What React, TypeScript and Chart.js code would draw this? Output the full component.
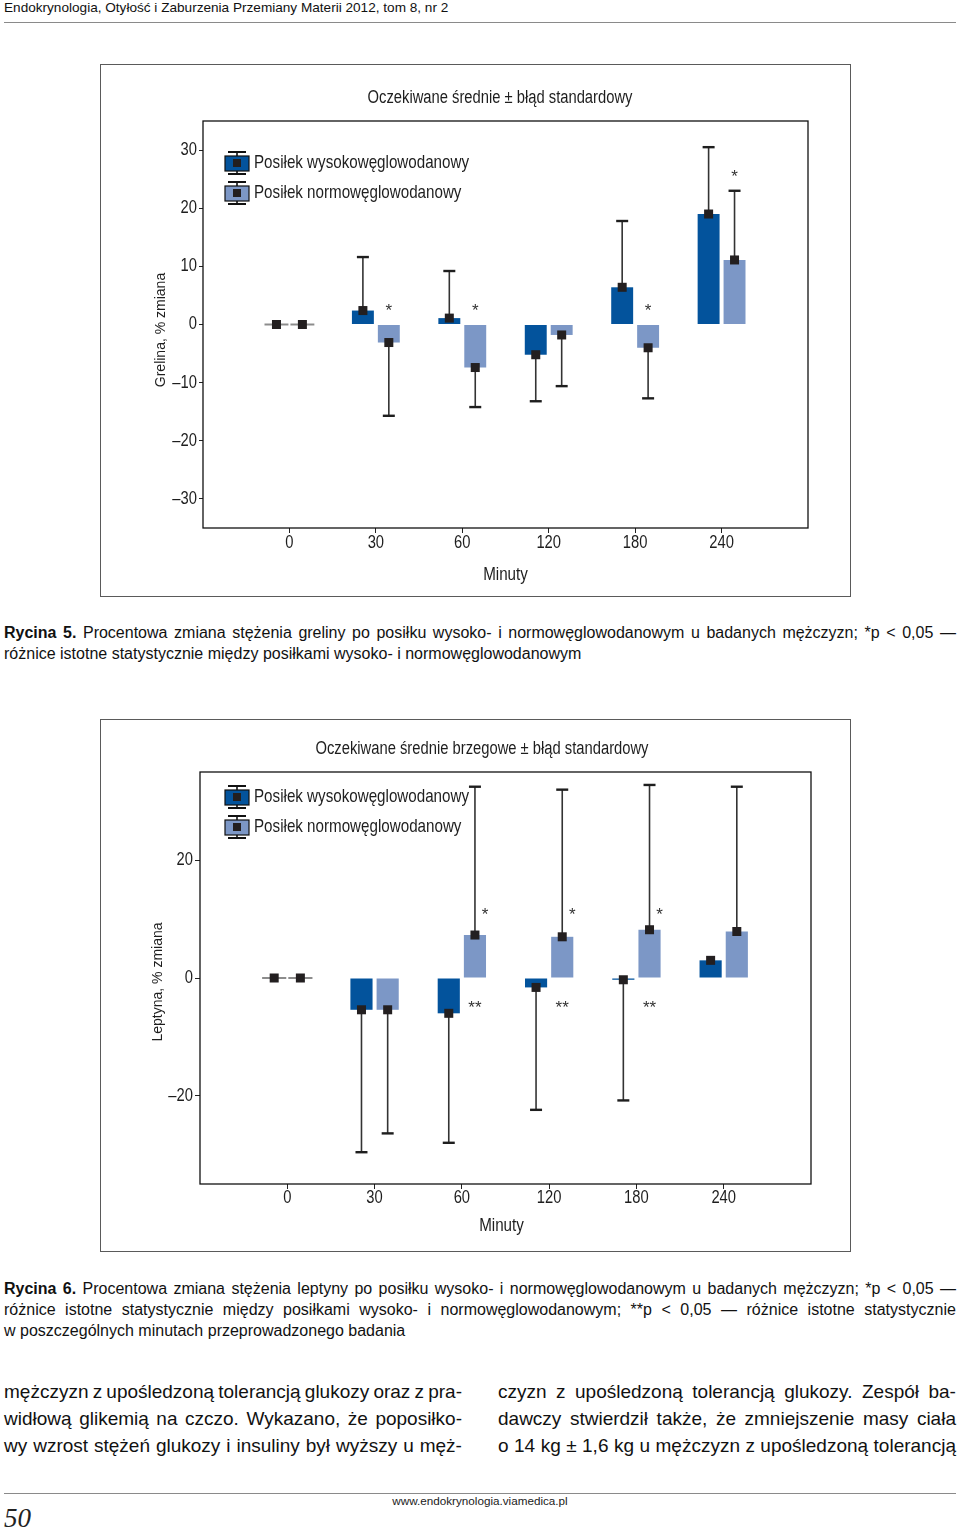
import React, { useEffect, useRef, useLayoutEffect } from 'react';
import { Chart, registerables } from 'chart.js';

Chart.register(...registerables);

// ---------- DATA ----------
const timeCategories = ['0', '30', '60', '120', '180', '240'];
const seriesNames = ['Posiłek wysokowęglowodanowy', 'Posiłek normowęglowodanowy'];

// Rycina 5 – grelina (% zmiana)
const ghrelinHighCarb = [0, 2.4, 1.1, -5.2, 6.4, 19.0];
const ghrelinHighCarbErrEnd = [0, 11.6, 9.2, -13.2, 17.8, 30.5];
const ghrelinNormCarb = [0, -3.1, -7.4, -1.8, -4.0, 11.1];
const ghrelinNormCarbErrEnd = [0, -15.7, -14.2, -10.6, -12.7, 23.0];
const ghrelinStarText = ['', '*', '*', '', '*', '*'];
const ghrelinStarValue = [null, 3.2, 3.2, null, 3.2, 26.2];
const ghrelinTicks = [-30, -20, -10, 0, 10, 20, 30];

// Rycina 6 – leptyna (% zmiana)
const leptinHighCarb = [0, -5.4, -6.0, -1.6, -0.3, 3.0];
const leptinHighCarbErrEnd = [0, -29.6, -28.0, -22.4, -20.8, null];
const leptinNormCarb = [0, -5.4, 7.3, 7.0, 8.2, 7.9];
const leptinNormCarbErrEnd = [0, -26.4, 32.5, 32.0, 32.8, 32.5];
const leptinStarText = ['', '', '*', '*', '*', ''];
const leptinStarValue = [null, null, 11.5, 11.5, 11.5, null];
const leptinDoubleStarText = ['', '', '**', '**', '**', ''];
const leptinDoubleStarValue = [null, null, -4.3, -4.3, -4.3, null];
const leptinTicks = [-20, 0, 20];

// ---------- STYLE ----------
const DARK = '#03539c';
const LIGHT = '#7c97c6';
const INK = '#1e1e1e';
const SANS = '"Liberation Sans", Arial, Helvetica, sans-serif';
const NARROW_FACTOR = 0.82;
const CW = 749;
const CH = 531;

type StarSpec = { dataset: number; text: string[]; value: (number | null)[]; dx: number };
type PanelSpec = {
  id: string;
  title: string;
  titleX: number;
  titleY: number;
  yTitle: string;
  yTitleX: number;
  yTitleY: number;
  xTitleDx: number;
  xTitleY: number;
  yAxisWidth: number;
  yTickLen: number;
  areaTop: number;
  padRight: number;
  xAxisHeight: number;
  xTickY: number;
  ticks: number[];
  high: number[];
  highErr: (number | null)[];
  norm: number[];
  normErr: (number | null)[];
  stars: StarSpec[];
  legendX: number;
  legendY: number;
};

const panel5: PanelSpec = {
  id: 'r5',
  title: 'Oczekiwane średnie ± błąd standardowy',
  titleX: 399,
  titleY: 33,
  yTitle: 'Grelina, % zmiana',
  yTitleX: 60,
  yTitleY: 265,
  xTitleDx: 0,
  xTitleY: 510,
  yAxisWidth: 102,
  yTickLen: 4,
  areaTop: 56,
  padRight: 42,
  xAxisHeight: 68,
  xTickY: 478,
  ticks: ghrelinTicks,
  high: ghrelinHighCarb,
  highErr: ghrelinHighCarbErrEnd,
  norm: ghrelinNormCarb,
  normErr: ghrelinNormCarbErrEnd,
  stars: [{ dataset: 1, text: ghrelinStarText, value: ghrelinStarValue, dx: 0 }],
  legendX: 124,
  legendY: 98,
};

const panel6: PanelSpec = {
  id: 'r6',
  title: 'Oczekiwane średnie brzegowe ± błąd standardowy',
  titleX: 381,
  titleY: 29,
  yTitle: 'Leptyna, % zmiana',
  yTitleX: 57,
  yTitleY: 262,
  xTitleDx: -4,
  xTitleY: 506,
  yAxisWidth: 99,
  yTickLen: 5,
  areaTop: 52,
  padRight: 39,
  xAxisHeight: 67,
  xTickY: 478,
  ticks: leptinTicks,
  high: leptinHighCarb,
  highErr: leptinHighCarbErrEnd,
  norm: leptinNormCarb,
  normErr: leptinNormCarbErrEnd,
  stars: [
    { dataset: 1, text: leptinStarText, value: leptinStarValue, dx: 10 },
    { dataset: 1, text: leptinDoubleStarText, value: leptinDoubleStarValue, dx: 0 },
  ],
  legendX: 124,
  legendY: 77,
};

function narrowText(
  ctx: CanvasRenderingContext2D,
  text: string,
  x: number,
  y: number,
  align: CanvasTextAlign,
  size: number,
  factor = NARROW_FACTOR,
  rotate = 0
) {
  ctx.save();
  ctx.translate(x, y);
  if (rotate) ctx.rotate(rotate);
  ctx.scale(factor, 1);
  ctx.font = `${size}px ${SANS}`;
  ctx.fillStyle = INK;
  ctx.textAlign = align;
  ctx.textBaseline = 'middle';
  ctx.fillText(text, 0, 0);
  ctx.restore();
}

function makeOverlay(spec: PanelSpec) {
  return {
    id: 'overlay-' + spec.id,
    afterDraw(chart: any) {
      const { ctx, chartArea: a, scales } = chart;
      const ys = scales.y;
      const xs = scales.x;
      const zeroPx = ys.getPixelForValue(0);
      ctx.save();
      const series = [
        { values: spec.high, ends: spec.highErr },
        { values: spec.norm, ends: spec.normErr },
      ];
      // zero-height bar edges and error bars
      series.forEach((s, di) => {
        const meta = chart.getDatasetMeta(di);
        s.values.forEach((v, i) => {
          const el = meta.data[i + 1];
          if (v == null || !el) return;
          const { x, width } = el.getProps(['x', 'width'], true);
          const py = ys.getPixelForValue(v);
          if (Math.abs(py - zeroPx) < 1.5) {
            ctx.strokeStyle = '#8c8c8c';
            ctx.lineWidth = 2;
            ctx.beginPath();
            ctx.moveTo(x - width / 2 - 1, py);
            ctx.lineTo(x + width / 2 + 1, py);
            ctx.stroke();
          }
          const e = s.ends[i];
          if (e != null && e !== v) {
            const pe = ys.getPixelForValue(e);
            ctx.strokeStyle = '#333';
            ctx.lineWidth = 1.6;
            ctx.beginPath();
            ctx.moveTo(x, py);
            ctx.lineTo(x, pe);
            ctx.stroke();
            ctx.strokeStyle = INK;
            ctx.lineWidth = 2.4;
            ctx.beginPath();
            ctx.moveTo(x - 6, pe);
            ctx.lineTo(x + 6, pe);
            ctx.stroke();
          }
        });
      });
      // markers
      series.forEach((s, di) => {
        const meta = chart.getDatasetMeta(di);
        s.values.forEach((v, i) => {
          const el = meta.data[i + 1];
          if (v == null || !el) return;
          const { x } = el.getProps(['x'], true);
          const py = ys.getPixelForValue(v);
          ctx.fillStyle = '#231f20';
          ctx.fillRect(x - 4.5, py - 4.5, 9, 9);
        });
      });
      // significance marks
      ctx.fillStyle = '#333';
      ctx.font = `17px ${SANS}`;
      ctx.textAlign = 'center';
      ctx.textBaseline = 'alphabetic';
      spec.stars.forEach((st) => {
        const meta = chart.getDatasetMeta(st.dataset);
        st.text.forEach((t, i) => {
          const v = st.value[i];
          if (!t || v == null) return;
          const el = meta.data[i + 1];
          const { x } = el.getProps(['x'], true);
          const py = ys.getPixelForValue(v);
          ctx.fillText(t, x + st.dx, py + 10);
        });
      });
      // plot frame
      ctx.strokeStyle = '#111';
      ctx.lineWidth = 1.3;
      ctx.strokeRect(a.left, a.top, a.right - a.left, a.bottom - a.top);
      // tick labels (narrow face)
      ys.ticks.forEach((t: any) => {
        const label = String(t.value).replace('-', '–');
        narrowText(ctx, label, a.left - spec.yTickLen - 2, ys.getPixelForValue(t.value), 'right', 18);
      });
      xs.ticks.forEach((_t: any, i: number) => {
        const label = xs.getLabelForValue(i);
        if (!label) return;
        narrowText(ctx, label, xs.getPixelForTick(i), spec.xTickY, 'center', 18);
      });
      // axis titles
      narrowText(ctx, 'Minuty', (a.left + a.right) / 2 + spec.xTitleDx, spec.xTitleY, 'center', 18.5);
      narrowText(ctx, spec.yTitle, spec.yTitleX, spec.yTitleY, 'center', 14, 1, -Math.PI / 2);
      // legend
      const colors = [DARK, LIGHT];
      seriesNames.forEach((name, k) => {
        const cy = spec.legendY + k * 30;
        const ix = spec.legendX;
        const cx = ix + 12;
        ctx.fillStyle = colors[k];
        ctx.fillRect(ix, cy - 7, 24, 15);
        ctx.strokeStyle = '#111';
        ctx.lineWidth = 1.2;
        ctx.strokeRect(ix, cy - 7, 24, 15);
        ctx.lineWidth = 1.6;
        ctx.beginPath();
        ctx.moveTo(cx, cy - 11);
        ctx.lineTo(cx, cy - 7);
        ctx.moveTo(cx, cy + 8);
        ctx.lineTo(cx, cy + 11);
        ctx.stroke();
        ctx.lineWidth = 2.2;
        ctx.beginPath();
        ctx.moveTo(cx - 9, cy - 11);
        ctx.lineTo(cx + 9, cy - 11);
        ctx.moveTo(cx - 9, cy + 11);
        ctx.lineTo(cx + 9, cy + 11);
        ctx.stroke();
        ctx.fillStyle = '#231f20';
        ctx.fillRect(cx - 4, cy - 4, 8, 8);
        narrowText(ctx, name, ix + 29, cy, 'left', 18.5);
      });
      // title
      narrowText(ctx, spec.title, spec.titleX, spec.titleY, 'center', 18);
      ctx.restore();
    },
  };
}

function buildConfig(spec: PanelSpec): any {
  const labels = ['', ...timeCategories, ''];
  const pad = (arr: number[]) => [null, ...arr, null];
  const last = labels.length - 1;
  return {
    type: 'bar',
    data: {
      labels,
      datasets: [
        {
          label: seriesNames[0],
          data: pad(spec.high),
          backgroundColor: DARK,
          borderWidth: 0,
          categoryPercentage: 0.6,
          barPercentage: 0.846,
        },
        {
          label: seriesNames[1],
          data: pad(spec.norm),
          backgroundColor: LIGHT,
          borderWidth: 0,
          categoryPercentage: 0.6,
          barPercentage: 0.846,
        },
      ],
    },
    options: {
      responsive: false,
      animation: false,
      devicePixelRatio: 1,
      events: [],
      layout: { padding: { top: spec.areaTop, right: spec.padRight, left: 0, bottom: 0 } },
      plugins: {
        legend: { display: false },
        title: { display: false },
        tooltip: { enabled: false },
      },
      scales: {
        x: {
          type: 'category',
          offset: false,
          border: { display: false },
          grid: {
            display: true,
            offset: false,
            drawOnChartArea: false,
            drawTicks: true,
            tickLength: 5,
            lineWidth: 1,
            color: (c: any) => (c.index === 0 || c.index === last ? 'rgba(0,0,0,0)' : '#222'),
          },
          ticks: { display: false, autoSkip: false, maxRotation: 0 },
          title: { display: false },
          afterFit: (s: any) => {
            s.height = spec.xAxisHeight;
          },
        },
        y: {
          type: 'linear',
          min: -35,
          max: 35,
          border: { display: false },
          afterBuildTicks: (s: any) => {
            s.ticks = spec.ticks.map((v) => ({ value: v }));
          },
          grid: {
            display: true,
            drawOnChartArea: false,
            drawTicks: true,
            tickLength: spec.yTickLen,
            lineWidth: 1,
            color: '#222',
          },
          ticks: { display: false },
          title: { display: false },
          afterFit: (s: any) => {
            s.width = spec.yAxisWidth;
          },
        },
      },
    },
    plugins: [makeOverlay(spec)],
  };
}

function Panel({ spec, top }: { spec: PanelSpec; top: number }) {
  const ref = useRef<HTMLCanvasElement>(null);
  useEffect(() => {
    if (!ref.current) return;
    const chart = new Chart(ref.current, buildConfig(spec));
    return () => chart.destroy();
  }, [spec]);
  return (
    <div
      style={{
        position: 'absolute',
        left: 100,
        top,
        width: CW + 2,
        height: CH + 2,
        border: '1px solid #5a5a5a',
        boxSizing: 'border-box',
        background: '#fff',
      }}
    >
      <canvas ref={ref} width={CW} height={CH} style={{ display: 'block', width: CW, height: CH }} />
    </div>
  );
}

type LineProps = {
  text: string;
  left: number;
  centerY: number;
  width: number;
  size: number;
  lh: number;
  justify?: boolean;
  boldWords?: number;
};

function TextLine({ text, left, centerY, width, size, lh, justify, boldWords = 0 }: LineProps) {
  const inner = useRef<HTMLDivElement>(null);
  useLayoutEffect(() => {
    const el = inner.current;
    if (!el) return;
    el.style.transform = '';
    el.style.width = width + 'px';
    const w = el.scrollWidth;
    if (w > width + 0.5) {
      el.style.width = w + 'px';
      el.style.transform = `scaleX(${width / w})`;
    }
  }, [text, width]);
  const words = text.split(' ');
  return (
    <div
      style={{
        position: 'absolute',
        left,
        top: centerY - lh / 2,
        width,
        height: lh,
        lineHeight: lh + 'px',
        fontFamily: SANS,
        fontSize: size,
        color: '#111',
        whiteSpace: 'nowrap',
      }}
    >
      <div
        ref={inner}
        style={{
          display: 'flex',
          justifyContent: justify ? 'space-between' : 'flex-start',
          columnGap: justify ? '0.22em' : '0.28em',
          transformOrigin: 'left center',
          width,
        }}
      >
        {words.map((w, i) => (
          <span key={i} style={{ fontWeight: i < boldWords ? 'bold' : 'normal', flex: 'none' }}>
            {w}
          </span>
        ))}
      </div>
    </div>
  );
}

export default function App() {
  const cap = 16;
  const capLh = 21;
  const body = 19;
  const bodyLh = 27;
  return (
    <div style={{ position: 'absolute', left: 0, top: 0, width: 960, height: 1529, background: '#fff', overflow: 'hidden' }}>
      <div
        style={{
          position: 'absolute',
          left: 4,
          top: 0,
          fontFamily: SANS,
          fontSize: 13.6,
          lineHeight: '16px',
          color: '#111',
          whiteSpace: 'nowrap',
        }}
      >
        Endokrynologia, Otyłość i Zaburzenia Przemiany Materii 2012, tom 8, nr 2
      </div>
      <div style={{ position: 'absolute', left: 4, top: 22, width: 952, height: 1, background: '#8a8a8a' }} />

      <Panel spec={panel5} top={64} />

      <TextLine
        text="Rycina 5. Procentowa zmiana stężenia greliny po posiłku wysoko- i normowęglowodanowym u badanych mężczyzn; *p < 0,05 —"
        left={4}
        centerY={632}
        width={952}
        size={cap}
        lh={capLh}
        justify
        boldWords={2}
      />
      <TextLine
        text="różnice istotne statystycznie między posiłkami wysoko- i normowęglowodanowym"
        left={4}
        centerY={653}
        width={952}
        size={cap}
        lh={capLh}
      />

      <Panel spec={panel6} top={719} />

      <TextLine
        text="Rycina 6. Procentowa zmiana stężenia leptyny po posiłku wysoko- i normowęglowodanowym u badanych mężczyzn; *p < 0,05 —"
        left={4}
        centerY={1288}
        width={952}
        size={cap}
        lh={capLh}
        justify
        boldWords={2}
      />
      <TextLine
        text="różnice istotne statystycznie między posiłkami wysoko- i normowęglowodanowym; **p < 0,05 — różnice istotne statystycznie"
        left={4}
        centerY={1309}
        width={952}
        size={cap}
        lh={capLh}
        justify
      />
      <TextLine
        text="w poszczególnych minutach przeprowadzonego badania"
        left={4}
        centerY={1330}
        width={952}
        size={cap}
        lh={capLh}
      />

      <TextLine text="mężczyzn z upośledzoną tolerancją glukozy oraz z pra-" left={4} centerY={1391} width={458} size={body} lh={bodyLh} justify />
      <TextLine text="widłową glikemią na czczo. Wykazano, że poposiłko-" left={4} centerY={1418} width={458} size={body} lh={bodyLh} justify />
      <TextLine text="wy wzrost stężeń glukozy i insuliny był wyższy u męż-" left={4} centerY={1445} width={458} size={body} lh={bodyLh} justify />

      <TextLine text="czyzn z upośledzoną tolerancją glukozy. Zespół ba-" left={498} centerY={1391} width={458} size={body} lh={bodyLh} justify />
      <TextLine text="dawczy stwierdził także, że zmniejszenie masy ciała" left={498} centerY={1418} width={458} size={body} lh={bodyLh} justify />
      <TextLine text="o 14 kg ± 1,6 kg u mężczyzn z upośledzoną tolerancją" left={498} centerY={1445} width={458} size={body} lh={bodyLh} justify />

      <div style={{ position: 'absolute', left: 4, top: 1493, width: 952, height: 1, background: '#8a8a8a' }} />
      <div
        style={{
          position: 'absolute',
          left: 0,
          width: 960,
          top: 1494,
          textAlign: 'center',
          fontFamily: SANS,
          fontSize: 11.7,
          lineHeight: '14px',
          color: '#222',
        }}
      >
        www.endokrynologia.viamedica.pl
      </div>
      <div
        style={{
          position: 'absolute',
          left: 4,
          top: 1504,
          fontFamily: '"Liberation Serif", "DejaVu Serif", serif',
          fontStyle: 'italic',
          fontSize: 27,
          lineHeight: '28px',
          color: '#222',
        }}
      >
        50
      </div>
    </div>
  );
}
